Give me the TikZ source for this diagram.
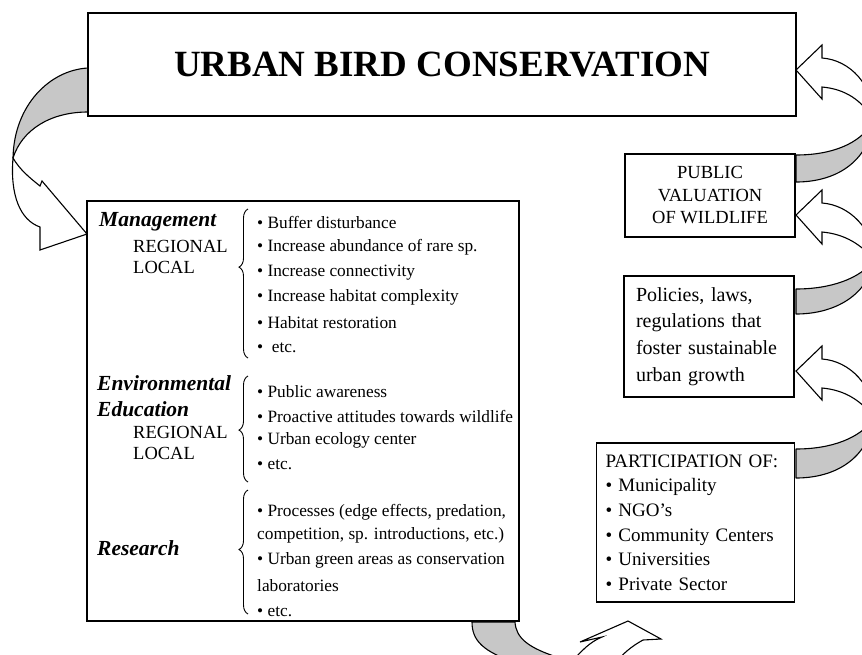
\documentclass[tikz,border=0pt]{standalone}
\usepackage{fontspec}
\setmainfont{Liberation Serif}
\usetikzlibrary{calc, patterns, positioning, decorations.pathreplacing}

\tikzset{
	box/.style={draw, line width=1.2pt, inner sep=0pt, fill=white},
	ribbon/.style={draw, line width=1.1pt, fill=black!22, line join=round},
	ribbonfront/.style={draw, line width=1.1pt, fill=white, line join=miter},
	head/.style={font=\fontsize{21.5}{24}\selectfont\bfseries\itshape, anchor=west, inner sep=0pt},
	level/.style={font=\fontsize{18.5}{21}\selectfont, anchor=west, inner sep=0pt},
	item/.style={font=\fontsize{17.3}{21}\selectfont, anchor=west, inner sep=0pt},
	lbrace/.style={decorate, decoration={brace, amplitude=9pt, aspect=#1}, line width=0.9pt},
}

% ribbon arrow on the right: tip y, top and bottom of its back band
\newcommand{\backarrow}[3]{%
	\pgfmathsetmacro\tw{(#1+#2)/2+8}
	\draw[ribbon] (796,#2) .. controls (830,#2) and (860,#2-10) .. (874,\tw)
		.. controls (868,#3-19) and (835,#3) .. (796,#3) -- cycle;
	\draw[ribbonfront] (874,\tw) .. controls (874,#1+15) and (850,#1-10) .. (822,#1-12)
		-- (822,#1-25) -- (796,#1) -- (822,#1+29) -- (822,#1+17)
		.. controls (845,#1+19) and (862,#1+30) .. (874,\tw) -- cycle;
}

\begin{document}
\begin{tikzpicture}[x=1pt, y=-1pt]
	\useasboundingbox (0,0) rectangle (862,654);
	\clip (0,0) rectangle (862,654);

	% curved arrows
	\draw[ribbon] (88,68) .. controls (50,70) and (14,105) .. (13,158)
		.. controls (22,130) and (50,112) .. (88,112) -- cycle;
	\draw[ribbonfront] (13,158) .. controls (20,170) and (30,178) .. (40,186) -- (42,181) -- (87,234)
		-- (40,250) -- (40,227) .. controls (20,220) and (10,195) .. (13,158) -- cycle;
	\backarrow{70}{155}{182}
	\backarrow{215}{289}{314}
	\backarrow{371}{449}{478}
	\draw[ribbon] (472,622) .. controls (472,640) and (482,652) .. (520,664) -- (560,658)
		.. controls (528,648) and (516,638) .. (515,622) -- cycle;
	\draw[ribbonfront] (570,664) .. controls (582,650) and (590,642) .. (602,637) -- (580,642) -- (628,621)
		-- (661,639) -- (643,640) .. controls (632,646) and (622,654) .. (615,664) -- cycle;

	% boxes
	\node[box, minimum width=708pt, minimum height=103pt] (title) at (442,64.5)
		{\fontsize{37}{44}\selectfont\bfseries URBAN BIRD CONSERVATION};
	\node[box, minimum width=432pt, minimum height=420pt, fill=none] (main) at (303,411) {};
	\node[box, minimum width=170pt, minimum height=83pt, align=center,
		font=\fontsize{18.5}{22.5}\selectfont] (public) at (710,195.5) {PUBLIC\\VALUATION\\OF WILDLIFE};
	\node[box, minimum width=170pt, minimum height=121pt, text width=146pt, inner xsep=12pt, align=left,
		font=\fontsize{20}{26.7}\selectfont] (policies) at (709,336.5)
		{Policies, laws,\\regulations that\\foster sustainable\\urban growth};
	\node[box, minimum width=198pt, minimum height=159pt, text width=180pt, inner xsep=9pt, align=left,
		font=\fontsize{19}{24.6}\selectfont] (partic) at (695.5,522.5)
		{PARTICIPATION OF:\\\textbullet\ Municipality\\\textbullet\ NGO’s\\\textbullet\ Community Centers\\\textbullet\ Universities\\\textbullet\ Private Sector};

	% management
	\node[head] (mgmt) at (99,222) {Management};
	\node[level] (mgmtreg) at (133,246) {REGIONAL};
	\node[level] (mgmtloc) at (133,267) {LOCAL};
	\draw[lbrace=0.61] (248,358) -- (248,209);
	\foreach \txt [count=\i] in {Buffer disturbance, Increase abundance of rare sp., Increase connectivity,
		Increase habitat complexity, Habitat restoration}
		\node[item] (mgmt\i) at (257,{222+25.2*(\i-1)}) {\textbullet\ \txt};
	\node[item] (mgmt6) at (257,348) {\textbullet\ \ etc.};

	% environmental education
	\node[head] (env) at (97,383) {Environmental};
	\node[head] (edu) at (97,409) {Education};
	\node[level] (envreg) at (133,432) {REGIONAL};
	\node[level] (envloc) at (133,453) {LOCAL};
	\draw[lbrace=0.49] (248,482) -- (248,376);
	\foreach \txt [count=\i] in {Public awareness, Proactive attitudes towards wildlife,
		Urban ecology center, etc.}
		\node[item] (env\i) at (257,{392+24.3*(\i-1)}) {\textbullet\ \txt};

	% research
	\node[head] (res) at (97,548) {Research};
	\draw[lbrace=0.52] (248,614) -- (248,490);
	\node[item] (res1) at (257,512) {\textbullet\ Processes (edge effects, predation,};
	\node[item] (res2) at (257,535) {competition, sp. introductions, etc.)};
	\node[item] (res3) at (257,560) {\textbullet\ Urban green areas as conservation};
	\node[item] (res4) at (257,586) {laboratories};
	\node[item] (res5) at (257,612) {\textbullet\ etc.};
\end{tikzpicture}
\end{document}
